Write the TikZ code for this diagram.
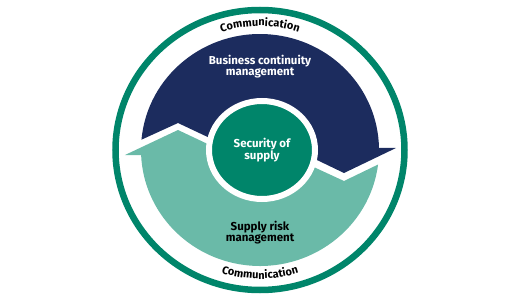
\documentclass[tikz,border=0pt]{standalone}
\usepackage{fontspec}
\setmainfont{Fira Sans}
\usetikzlibrary{decorations.text,shapes.geometric}
\definecolor{navy}{RGB}{28,44,94}
\definecolor{lteal}{RGB}{106,186,168}
\definecolor{dgreen}{RGB}{0,133,106}
\tikzset{
  lbl/.style={align=center, inner sep=0pt, font=\bfseries\fontsize{11.5}{11}\selectfont},
  commtext/.style={decorate, decoration={text along path, text align=center,
    text={|\bfseries\fontsize{11}{11}\selectfont|Communication}}}
}
\begin{document}
\begin{tikzpicture}[x=1pt,y=1pt]
\useasboundingbox (-260,-150) rectangle (260,150);
% outer ring
\draw[dgreen, line width=6.5] (0,0) ellipse[x radius=144.5, y radius=140];
% blue arrow (top)
\fill[navy] (174.9:119 and 116) arc[start angle=174.9, end angle=1, x radius=119, y radius=116]
  -- (136,2) -- (84,-23) -- (32,2) -- (-29,2) -- (-82,27) -- cycle;
% teal arrow (bottom)
\fill[lteal] (-135,-5) -- (-82,20) -- (-29,-5) -- (32,-7) -- (84,-31)
  -- (-7.2:119 and 116) arc[start angle=-7.2, end angle=-177.5, x radius=119, y radius=116] -- cycle;
% centre
\node[ellipse, fill=dgreen, draw=white, line width=6, minimum width=106, minimum height=98,
  inner sep=0pt, align=center, text=white, font=\bfseries\fontsize{11.5}{11}\selectfont]
  (sec) at (2,0) {Security of\\supply};
% labels
\node[lbl, text=white] (bcm) at (0,83.5) {Business continuity\\management};
\node[lbl, text=black] (srm) at (0,-83) {Supply risk\\management};
% communication texts
\path[commtext] (115:124) arc[start angle=115, end angle=65, radius=124];
\path[commtext] (-115:129) arc[start angle=-115, end angle=-65, radius=129];
\end{tikzpicture}
\end{document}
